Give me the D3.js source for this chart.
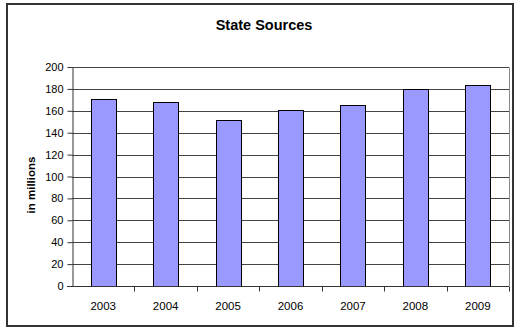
<!DOCTYPE html>
<html>
<head>
<meta charset="utf-8">
<script src="https://cdn.jsdelivr.net/npm/d3@7"></script>
<style>
  body { margin: 0; background: #fff; }
  text { font-family: "Liberation Sans", Arial, sans-serif; }
</style>
</head>
<body>
<div id="chart"></div>
<script>
var years = ["2003", "2004", "2005", "2006", "2007", "2008", "2009"];
var values = [171, 168, 152, 161, 165, 180, 184];
var yTicks = [0, 20, 40, 60, 80, 100, 120, 140, 160, 180, 200];

var W = 517, H = 328;
var margin = {top: 67, right: 8, bottom: 42, left: 72};
var width = 509 - margin.left;
var height = 286 - margin.top;

var svg = d3.select("#chart").append("svg")
  .attr("width", W)
  .attr("height", H);

// outer frame
svg.append("rect")
  .attr("x", 7).attr("y", 4)
  .attr("width", 506).attr("height", 322)
  .attr("fill", "none")
  .attr("stroke", "#333")
  .attr("stroke-width", 2);

svg.append("text")
  .attr("x", 264).attr("y", 30)
  .attr("text-anchor", "middle")
  .style("font-size", "14.5px")
  .style("font-weight", "bold")
  .text("State Sources");

var g = svg.append("g")
  .attr("transform", "translate(" + margin.left + "," + margin.top + ")");

var x = d3.scaleBand()
  .domain(years)
  .range([0, width])
  .paddingInner(0.6)
  .paddingOuter(0.3);

var y = d3.scaleLinear()
  .domain([0, 200])
  .range([height, 0]);

// gridlines
g.selectAll(".grid")
  .data(yTicks.slice(1))
  .enter().append("line")
  .attr("x1", 0).attr("x2", width)
  .attr("y1", function(d) { return Math.round(y(d)) + 0.5; })
  .attr("y2", function(d) { return Math.round(y(d)) + 0.5; })
  .attr("stroke", "#444")
  .attr("stroke-width", 1);

// plot border (right side)
g.append("line")
  .attr("x1", width + 0.5).attr("x2", width + 0.5)
  .attr("y1", Math.round(y(200)) + 0.5).attr("y2", height)
  .attr("stroke", "#888");

g.selectAll(".bar")
  .data(values)
  .enter().append("rect")
  .attr("class", "bar")
  .attr("x", function(d, i) { return Math.round(x(years[i])) + 0.5; })
  .attr("width", Math.round(x.bandwidth()))
  .attr("y", function(d) { return Math.round(y(d)) + 0.5; })
  .attr("height", function(d) { return Math.round(height - y(d)); })
  .attr("fill", "#9999ff")
  .attr("stroke", "#000")
  .attr("stroke-width", 1);

// y axis
var yAxis = g.append("g")
  .attr("transform", "translate(0.5,0)")
  .call(d3.axisLeft(y).tickValues(yTicks).tickSize(5).tickSizeOuter(0).tickPadding(4));
yAxis.selectAll("text").style("font-size", "11px").attr("fill", "#000");
yAxis.selectAll("line, path").attr("stroke", "#333");

// x axis with ticks between categories
var x0 = d3.scaleLinear().domain([0, years.length]).range([0, width]);
var xAxis = g.append("g")
  .attr("transform", "translate(0," + (height + 0.5) + ")");
xAxis.append("line")
  .attr("x1", -5).attr("x2", width)
  .attr("stroke", "#333");
xAxis.selectAll(".tk")
  .data(d3.range(1, years.length + 1))
  .enter().append("line")
  .attr("x1", function(d) { return Math.round(x0(d)) + 0.5; })
  .attr("x2", function(d) { return Math.round(x0(d)) + 0.5; })
  .attr("y1", 0).attr("y2", 5)
  .attr("stroke", "#333");
xAxis.selectAll(".lbl")
  .data(years)
  .enter().append("text")
  .attr("x", function(d) { return x(d) + x.bandwidth() / 2; })
  .attr("y", 23.5)
  .attr("text-anchor", "middle")
  .style("font-size", "11.5px")
  .text(function(d) { return d; });

svg.append("text")
  .attr("transform", "translate(35,185) rotate(-90)")
  .attr("text-anchor", "middle")
  .style("font-size", "11.5px")
  .style("font-weight", "bold")
  .text("in millions");
</script>
</body>
</html>
